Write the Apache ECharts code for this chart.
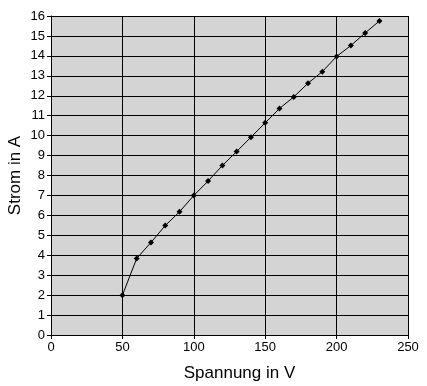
<!DOCTYPE html>
<html><head><meta charset="utf-8">
<script src="https://cdn.jsdelivr.net/npm/echarts@6/dist/echarts.min.js"></script>
<style>html,body{margin:0;padding:0;background:#fff}#c{width:427px;height:386px}</style>
</head><body><div id="c"></div>
<script>
const spannung = [50,60,70,80,90,100,110,120,130,140,150,160,170,180,190,200,210,220,230];
const strom = [1.99,3.84,4.64,5.49,6.18,7.0,7.72,8.5,9.2,9.92,10.64,11.36,11.94,12.63,13.21,13.97,14.52,15.15,15.75];
const xTitle = 'Spannung in V';
const yTitle = 'Strom in A';

const chart = echarts.init(document.getElementById('c'), null, {renderer:'canvas'});
const font = 'Arial, "Liberation Sans", sans-serif';
chart.setOption({
  animation:false,
  grid:{left:51,right:19,top:16,bottom:51,show:true,backgroundColor:'#D4D4D4',borderWidth:0,
    containLabel:false,outerBoundsMode:'none'},
  xAxis:{type:'value',min:0,max:250,interval:50,
    name:xTitle,nameLocation:'middle',nameGap:30,nameMoveOverlap:false,
    nameTextStyle:{fontFamily:font,fontSize:17,color:'#000',padding:[0,0,0,20]},
    axisLine:{show:true,lineStyle:{color:'#000',width:1}},
    axisTick:{show:true,length:4,lineStyle:{color:'#000'}},
    axisLabel:{fontFamily:font,fontSize:13,color:'#000',margin:6},
    splitLine:{show:true,lineStyle:{color:'#000',width:1}}},
  yAxis:{type:'value',min:0,max:16,interval:1,
    name:yTitle,nameLocation:'middle',nameGap:27,nameMoveOverlap:false,
    nameTextStyle:{fontFamily:font,fontSize:17,color:'#000'},
    axisLine:{show:true,lineStyle:{color:'#000',width:1}},
    axisTick:{show:true,length:4,lineStyle:{color:'#000'}},
    axisLabel:{fontFamily:font,fontSize:13,color:'#000',margin:6},
    splitLine:{show:true,lineStyle:{color:'#000',width:1}}},
  series:[{type:'line',data:spannung.map((x,i)=>[x,strom[i]]),
    symbol:'diamond',symbolSize:6,showAllSymbol:true,
    lineStyle:{color:'#000',width:1},itemStyle:{color:'#000'}}]
});
</script></body></html>
